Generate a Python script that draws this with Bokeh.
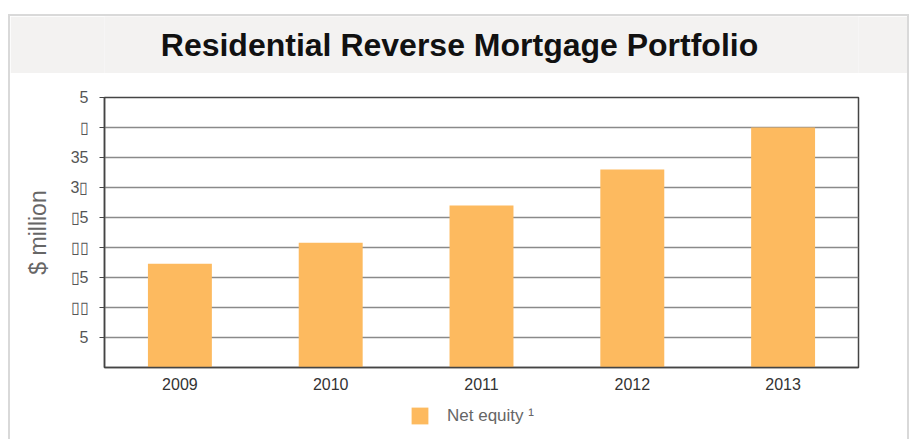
from bokeh.plotting import figure
from bokeh.layouts import column
from bokeh.models import Label, Legend, LegendItem, ColumnDataSource, FixedTicker, Range1d, FactorRange
from bokeh.embed import file_html
from bokeh.resources import INLINE

years = ["2009", "2010", "2011", "2012", "2013"]
net_equity = [17.3, 20.8, 27.0, 33.0, 40.0]
tick_values = [5, 10, 15, 20, 25, 30, 35, 40, 45]
tick_labels = ["5", "\u25af\u25af", "\u25af5", "\u25af\u25af", "\u25af5", "3\u25af", "35", "\u25af", "5"]
title_text = "Residential Reverse Mortgage Portfolio"
series_name = "Net equity \u00b9"
bar_color = "#fdba5f"

# header band (its frame is aligned with the main plot's frame inside the column)
h = figure(width=897, height=57, x_range=Range1d(-94, 803), y_range=Range1d(0, 1),
           x_axis_type=None, y_axis_type=None,
           output_backend="svg", toolbar_location=None, min_border=0)
h.grid.grid_line_color = None
h.outline_line_color = None
h.background_fill_color = "#f3f2f1"
h.border_fill_color = "#f3f2f1"

src = ColumnDataSource(dict(x=years, y=net_equity))

p = figure(x_range=years, y_range=Range1d(0, 45), width=897, height=319,
           frame_width=754, frame_height=270,
           output_backend="svg", toolbar_location=None,
           min_border_left=94, min_border_right=49, min_border_top=24, min_border_bottom=25)
p.background_fill_color = "white"
p.border_fill_color = "white"
p.outline_line_color = "#444444"
p.outline_line_width = 1.5

r = p.vbar(x="x", top="y", width=0.424, source=src, fill_color=bar_color, line_color=None)

h.add_layout(Label(x=355, y=0.5, x_units="screen", y_units="data", text=title_text,
                   text_font="Liberation Sans", text_font_style="bold", text_font_size="32px",
                   text_color="#111111", text_align="center", text_baseline="middle"))

p.xgrid.grid_line_color = None
p.ygrid.grid_line_color = "#8a8a8a"
p.ygrid.grid_line_width = 1.5
p.ygrid.ticker = FixedTicker(ticks=tick_values)

p.yaxis.ticker = FixedTicker(ticks=tick_values)
p.yaxis.major_label_overrides = {v: l for v, l in zip(tick_values, tick_labels)}
p.yaxis.axis_line_color = "#444444"
p.yaxis.axis_line_width = 1.5
p.yaxis.major_tick_line_color = "#444444"
p.yaxis.major_tick_in = 0
p.yaxis.major_tick_out = 5
p.yaxis.minor_tick_line_color = None
p.yaxis.major_label_text_font = "Liberation Sans"
p.yaxis.major_label_text_font_size = "16px"
p.yaxis.major_label_text_color = "#555555"
p.yaxis.major_label_standoff = 11
p.yaxis.axis_label = "$ million"
p.yaxis.axis_label_text_font = "Liberation Sans"
p.yaxis.axis_label_text_font_style = "normal"
p.yaxis.axis_label_text_font_size = "23px"
p.yaxis.axis_label_text_color = "#666666"
p.yaxis.axis_label_standoff = 17

p.xaxis.axis_line_color = "#444444"
p.xaxis.axis_line_width = 1.5
p.xaxis.major_tick_line_color = None
p.xaxis.minor_tick_line_color = None
p.xaxis.major_label_text_font = "Liberation Sans"
p.xaxis.major_label_text_font_size = "16px"
p.xaxis.major_label_text_color = "#333333"
p.xaxis.major_label_standoff = 4

# legend row: the same series drawn against a range that keeps its bars out of view,
# so that the legend has a real renderer for its swatch
lg = figure(width=897, height=47, x_range=FactorRange(*years), y_range=Range1d(100, 101),
            x_axis_type=None, y_axis_type=None,
            output_backend="svg", toolbar_location=None, min_border=0)
lg.grid.grid_line_color = None
lg.outline_line_color = None
lg.background_fill_color = "white"
lg.border_fill_color = "white"
swatch = lg.vbar(x="x", top="y", width=0.424, source=src, fill_color=bar_color, line_color=None)
legend = Legend(items=[LegendItem(label=series_name, renderers=[swatch])],
                location=(305, 13), orientation="horizontal",
                glyph_width=21, glyph_height=21, label_standoff=17,
                label_text_font="Liberation Sans", label_text_font_size="17px",
                label_text_color="#666666", border_line_color=None,
                background_fill_alpha=0, padding=0, margin=0)
lg.add_layout(legend)

layout = column(h, p, lg, spacing=0,
                styles={"border-top": "2px solid #d9d9d9", "border-left": "2px solid #d9d9d9",
                        "border-right": "2px solid #d9d9d9",
                        "margin-top": "14px", "margin-left": "8px"})

open("out.html", "w").write(file_html(layout, INLINE))
